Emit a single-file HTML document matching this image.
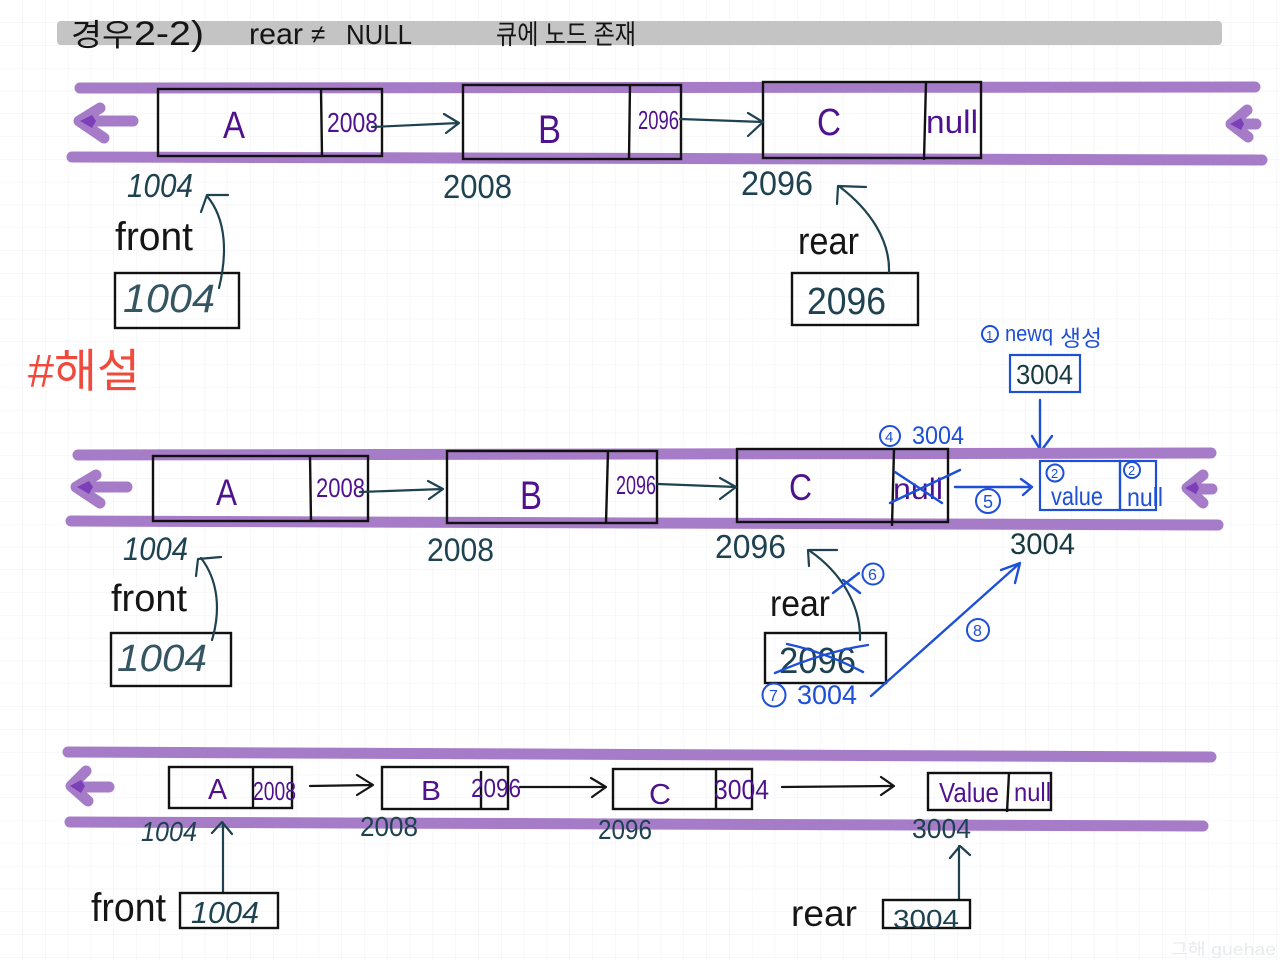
<!DOCTYPE html>
<html lang="ko">
<head>
<meta charset="utf-8">
<title>경우 2-2 rear != NULL</title>
<style>
html,body{margin:0;padding:0;background:#fff;width:1280px;height:960px;overflow:hidden}
svg{display:block}
text{font-family:"Liberation Sans","Noto Sans CJK KR",sans-serif}
.band{stroke:#a67cc9;stroke-width:11;stroke-linecap:round;fill:none}
.arr{stroke:#a67cc9;stroke-width:11;stroke-linecap:round;stroke-linejoin:round;fill:none}
.box{fill:none;stroke:#111;stroke-width:2.4}
.teal{stroke:#1e4250;stroke-width:2.2;fill:none;stroke-linecap:round;stroke-linejoin:round}
.blk{stroke:#151515;stroke-width:2.2;fill:none;stroke-linecap:round;stroke-linejoin:round}
.blue{stroke:#1d4fd8;stroke-width:2.4;fill:none;stroke-linecap:round;stroke-linejoin:round}
.dk{fill:#1e4250}
.pu{fill:#4f128f}
.bk{fill:#151515}
.bl{fill:#1d4fd8}
.circ{fill:none;stroke:#1d4fd8;stroke-width:2}
</style>
</head>
<body>
<svg width="1280" height="960" viewBox="0 0 1280 960" xmlns="http://www.w3.org/2000/svg">
<defs>
<pattern id="g" width="22.8" height="22.8" patternUnits="userSpaceOnUse">
<path d="M22.8 0V22.8M0 22.8H22.8" stroke="#eef0f3" stroke-width="1" fill="none"/>
</pattern>
</defs>
<rect width="1280" height="960" fill="#fff"/>
<rect width="1280" height="960" fill="url(#g)"/>

<!-- title -->
<rect x="57" y="21" width="1165" height="24" rx="4" fill="#c4c4c4"/>
<text x="71" y="46" font-size="31" class="bk" textLength="62" lengthAdjust="spacingAndGlyphs">경우</text>
<text x="134" y="45" font-size="34" class="bk" textLength="70" lengthAdjust="spacingAndGlyphs">2-2)</text>
<text x="249" y="44" font-size="30" class="bk" textLength="54" lengthAdjust="spacingAndGlyphs">rear</text>
<text x="311" y="43" font-size="26" class="bk">≠</text>
<text x="346" y="44" font-size="28" class="bk" textLength="66" lengthAdjust="spacingAndGlyphs">NULL</text>
<text x="496" y="44" font-size="27" class="bk" textLength="140" lengthAdjust="spacingAndGlyphs">큐에 노드 존재</text>

<!-- row 1 bands -->
<path class="band" d="M80 88 L1255 87"/>
<path class="band" d="M72 157 L1262 160"/>
<path class="arr" d="M133 121 H84 M100 108 L79 121 L104 138"/>
<path d="M80 121 L92 115 L96 121 L92 128Z" fill="#7b3fb8"/>
<path class="arr" d="M1256 124 H1232 M1247 110 L1231 124 L1248 137"/>
<path d="M1230 124 L1241 118 L1244 124 L1241 130Z" fill="#7b3fb8"/>

<!-- row 1 nodes -->
<rect class="box" x="158" y="89" width="224" height="67"/>
<path class="box" d="M321 89 L322 156"/>
<rect class="box" x="463" y="85" width="218" height="74"/>
<path class="box" d="M630 85 L629 159"/>
<rect class="box" x="763" y="82" width="218" height="76"/>
<path class="box" d="M926 82 L924 160"/>

<text x="223" y="138" font-size="38" class="pu" textLength="22" lengthAdjust="spacingAndGlyphs">A</text>
<text x="327" y="132" font-size="28" class="pu" textLength="51" lengthAdjust="spacingAndGlyphs">2008</text>
<text x="538" y="143" font-size="40" class="pu" textLength="23" lengthAdjust="spacingAndGlyphs">B</text>
<text x="638" y="129" font-size="26" class="pu" textLength="41" lengthAdjust="spacingAndGlyphs">2096</text>
<text x="817" y="135" font-size="38" class="pu" textLength="24" lengthAdjust="spacingAndGlyphs">C</text>
<text x="926" y="133" font-size="32" class="pu" textLength="52" lengthAdjust="spacingAndGlyphs">null</text>

<path class="teal" d="M372 127 L459 123 M444 114 L459 123 L446 133"/>
<path class="teal" d="M680 119 L763 122 M748 113 L763 122 L748 136"/>

<text x="127" y="197" font-size="33" font-style="italic" class="dk" textLength="66" lengthAdjust="spacingAndGlyphs">1004</text>
<text x="443" y="198" font-size="33" class="dk" textLength="69" lengthAdjust="spacingAndGlyphs">2008</text>
<text x="741" y="195" font-size="34" class="dk" textLength="72" lengthAdjust="spacingAndGlyphs">2096</text>

<text x="115" y="250" font-size="40" class="bk" textLength="78" lengthAdjust="spacingAndGlyphs">front</text>
<text x="798" y="254" font-size="38" class="bk" textLength="61" lengthAdjust="spacingAndGlyphs">rear</text>

<rect class="box" x="115" y="273" width="124" height="55"/>
<rect class="box" x="792" y="273" width="126" height="52"/>
<text x="123" y="312" font-size="40" font-style="italic" class="dk" fill-opacity=".9" textLength="92" lengthAdjust="spacingAndGlyphs">1004</text>
<text x="807" y="314" font-size="38" class="dk" textLength="79" lengthAdjust="spacingAndGlyphs">2096</text>

<path class="teal" d="M219 288 C227 255 227 220 207 196 M228 195 L207 195 L201 212"/>
<path class="teal" d="M889 272 C890 240 870 210 840 187 M866 187 L838 186 L837 204"/>

<!-- red heading -->
<text x="28" y="387" font-size="46" fill="#ef4a3c" textLength="112" lengthAdjust="spacingAndGlyphs">#해설</text>

<!-- new node -->
<circle class="circ" cx="990" cy="334" r="8"/>
<text x="986" y="340" font-size="13" class="bl">1</text>
<text x="1005" y="341" font-size="22" class="bl" textLength="48" lengthAdjust="spacingAndGlyphs">newq</text>
<text x="1060" y="346" font-size="22" class="bl" textLength="42" lengthAdjust="spacingAndGlyphs">생성</text>
<rect x="1010" y="355" width="70" height="37" fill="none" stroke="#1d4fd8" stroke-width="2.2"/>
<text x="1016" y="384" font-size="28" fill="#173a40" textLength="57" lengthAdjust="spacingAndGlyphs">3004</text>
<path class="blue" d="M1040 400 V451 M1032 436 L1041 451 L1052 436"/>

<!-- row 2 bands -->
<path class="band" d="M78 455 L1211 453"/>
<path class="band" d="M71 521 L1218 525"/>
<path class="arr" d="M127 487 H80 M96 475 L76 487 L100 503"/>
<path d="M77 487 L89 481 L93 487 L89 494Z" fill="#7b3fb8"/>
<path class="arr" d="M1212 489 H1190 M1203 475 L1187 488 L1203 503"/>
<path d="M1185 488 L1196 482 L1199 488 L1196 494Z" fill="#7b3fb8"/>

<!-- row 2 nodes -->
<rect class="box" x="153" y="456" width="215" height="65"/>
<path class="box" d="M310 456 L311 521"/>
<rect class="box" x="447" y="451" width="210" height="72"/>
<path class="box" d="M608 451 L606 523"/>
<rect class="box" x="737" y="449" width="211" height="73"/>
<path class="box" d="M894 449 L892 526"/>

<text x="216" y="505" font-size="37" class="pu" textLength="21" lengthAdjust="spacingAndGlyphs">A</text>
<text x="316" y="497" font-size="27" class="pu" textLength="49" lengthAdjust="spacingAndGlyphs">2008</text>
<text x="520" y="509" font-size="40" class="pu" textLength="22" lengthAdjust="spacingAndGlyphs">B</text>
<text x="616" y="494" font-size="26" class="pu" textLength="40" lengthAdjust="spacingAndGlyphs">2096</text>
<text x="789" y="500" font-size="37" class="pu" textLength="23" lengthAdjust="spacingAndGlyphs">C</text>
<text x="893" y="499" font-size="30" class="pu" textLength="50" lengthAdjust="spacingAndGlyphs">null</text>
<path class="blue" d="M895 472 L942 503 M890 503 L960 470"/>

<path class="teal" d="M360 492 L443 489 M428 481 L443 489 L429 499"/>
<path class="teal" d="M658 484 L736 487 M720 478 L736 487 L720 499"/>

<circle class="circ" cx="890" cy="436" r="10"/>
<text x="885" y="442" font-size="15" class="bl">4</text>
<text x="912" y="444" font-size="25" class="bl" textLength="52" lengthAdjust="spacingAndGlyphs">3004</text>
<path class="blue" d="M955 487 L1032 487 M1021 479 L1032 487 L1023 495"/>
<circle class="circ" cx="988" cy="501" r="12"/>
<text x="983" y="508" font-size="18" class="bl">5</text>

<rect x="1040" y="461" width="116" height="49" fill="none" stroke="#1d4fd8" stroke-width="2.2"/>
<path class="blue" d="M1120 461 V510"/>
<circle class="circ" cx="1055" cy="473" r="8.5"/>
<text x="1051" y="478" font-size="13" class="bl">2</text>
<circle class="circ" cx="1132" cy="470" r="8"/>
<text x="1128" y="475" font-size="13" class="bl">2</text>
<text x="1051" y="505" font-size="26" class="bl" textLength="52" lengthAdjust="spacingAndGlyphs">value</text>
<text x="1127" y="506" font-size="26" class="bl" textLength="36" lengthAdjust="spacingAndGlyphs">null</text>

<text x="123" y="560" font-size="32" font-style="italic" class="dk" textLength="65" lengthAdjust="spacingAndGlyphs">1004</text>
<text x="427" y="561" font-size="32" class="dk" textLength="67" lengthAdjust="spacingAndGlyphs">2008</text>
<text x="715" y="558" font-size="33" class="dk" textLength="71" lengthAdjust="spacingAndGlyphs">2096</text>
<text x="1010" y="554" font-size="30" fill="#173a40" textLength="65" lengthAdjust="spacingAndGlyphs">3004</text>

<text x="111" y="611" font-size="38" class="bk" textLength="76" lengthAdjust="spacingAndGlyphs">front</text>
<text x="770" y="616" font-size="37" class="bk" textLength="60" lengthAdjust="spacingAndGlyphs">rear</text>

<rect class="box" x="111" y="633" width="120" height="53"/>
<rect class="box" x="765" y="633" width="121" height="50"/>
<text x="117" y="671" font-size="38" font-style="italic" class="dk" fill-opacity=".9" textLength="90" lengthAdjust="spacingAndGlyphs">1004</text>
<text x="779" y="673" font-size="36" class="dk" textLength="77" lengthAdjust="spacingAndGlyphs">2096</text>
<path class="blue" d="M775 673 C805 660 835 650 868 645 M787 644 C815 650 840 660 863 672"/>

<path class="teal" d="M212 640 C221 610 218 580 201 558 M221 557 L198 559 L196 576"/>
<path class="teal" d="M860 640 C861 604 840 572 810 551 M837 550 L808 550 L809 566"/>
<path class="blue" d="M833 593 L859 573 M843 580 L860 593"/>
<circle class="circ" cx="873" cy="574" r="10.5"/>
<text x="868" y="580" font-size="16" class="bl">6</text>

<path class="blue" d="M871 696 L1020 563 M1001 570 L1020 563 L1015 583"/>
<circle class="circ" cx="978" cy="630" r="11"/>
<text x="973" y="636" font-size="16" class="bl">8</text>
<circle class="circ" cx="774" cy="695" r="11.5"/>
<text x="769" y="701" font-size="16" class="bl">7</text>
<text x="797" y="704" font-size="27" class="bl" textLength="60" lengthAdjust="spacingAndGlyphs">3004</text>

<!-- row 3 bands -->
<path class="band" d="M68 752 L1211 757"/>
<path class="band" d="M70 822 L1203 826"/>
<path class="arr" d="M109 787 H72 M86 771 L71 786 L88 801"/>
<path d="M70 786 L81 780 L85 786 L81 793Z" fill="#7b3fb8"/>

<!-- row 3 nodes -->
<rect class="box" x="169" y="767" width="123" height="41"/>
<path class="box" d="M253 767 V808"/>
<rect class="box" x="382" y="767" width="126" height="42"/>
<path class="box" d="M481 771 V809"/>
<rect class="box" x="613" y="769" width="139" height="40"/>
<path class="box" d="M716 769 V809"/>
<rect class="box" x="928" y="773" width="123" height="37"/>
<path class="box" d="M1009 773 L1007 812"/>

<text x="208" y="799" font-size="29" class="pu" textLength="19" lengthAdjust="spacingAndGlyphs">A</text>
<text x="253" y="800" font-size="26" class="pu" textLength="43" lengthAdjust="spacingAndGlyphs">2008</text>
<text x="421" y="800" font-size="28" class="pu" textLength="20" lengthAdjust="spacingAndGlyphs">B</text>
<text x="471" y="797" font-size="26" class="pu" textLength="50" lengthAdjust="spacingAndGlyphs">2096</text>
<text x="649" y="804" font-size="29" class="pu" textLength="22" lengthAdjust="spacingAndGlyphs">C</text>
<text x="714" y="799" font-size="28" class="pu" textLength="55" lengthAdjust="spacingAndGlyphs">3004</text>
<text x="939" y="802" font-size="28" class="pu" textLength="60" lengthAdjust="spacingAndGlyphs">Value</text>
<text x="1014" y="801" font-size="26" class="pu" textLength="37" lengthAdjust="spacingAndGlyphs">null</text>

<path class="blk" d="M310 786 L372 785 M357 775 L373 785 L357 795"/>
<path class="blk" d="M520 787 L605 787 M591 778 L606 787 L592 797"/>
<path class="blk" d="M782 787 L893 786 M881 777 L894 786 L881 795"/>

<text x="141" y="841" font-size="28" font-style="italic" class="dk" textLength="56" lengthAdjust="spacingAndGlyphs">1004</text>
<text x="360" y="836" font-size="28" class="dk" textLength="58" lengthAdjust="spacingAndGlyphs">2008</text>
<text x="598" y="839" font-size="28" class="dk" textLength="54" lengthAdjust="spacingAndGlyphs">2096</text>
<text x="912" y="838" font-size="28" class="dk" textLength="59" lengthAdjust="spacingAndGlyphs">3004</text>

<path class="teal" d="M223 893 V823 M212 833 L222 822 L232 834"/>
<path class="teal" d="M959 900 V846 M950 858 L960 846 L970 855"/>

<text x="91" y="921" font-size="40" class="bk" textLength="75" lengthAdjust="spacingAndGlyphs">front</text>
<rect class="box" x="180" y="893" width="98" height="35"/>
<text x="191" y="923" font-size="31" font-style="italic" class="dk" textLength="68" lengthAdjust="spacingAndGlyphs">1004</text>
<text x="791" y="926" font-size="37" class="bk" textLength="66" lengthAdjust="spacingAndGlyphs">rear</text>
<rect class="box" x="883" y="900" width="87" height="28"/>
<text x="893" y="928" font-size="26" class="dk" textLength="66" lengthAdjust="spacingAndGlyphs">3004</text>

<text x="1170" y="955" font-size="17" fill="#e8eaec" textLength="106" lengthAdjust="spacingAndGlyphs">그해 guehae</text>
</svg>
</body>
</html>
